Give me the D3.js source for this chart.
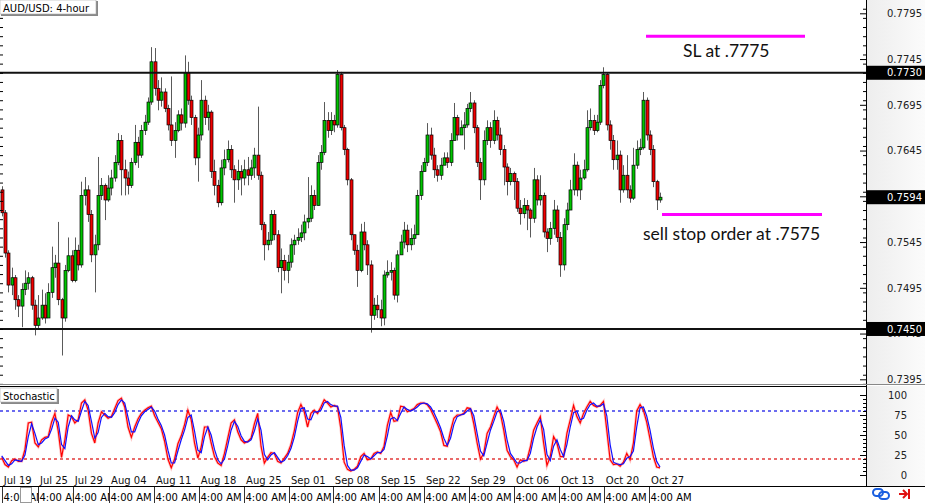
<!DOCTYPE html>
<html><head><meta charset="utf-8">
<script src="https://cdn.jsdelivr.net/npm/d3@7"></script>
<style>body{margin:0;background:#fff;overflow:hidden} svg{display:block}</style>
</head><body>
<svg id="c" width="925" height="503"></svg>
<script>
// ---------- DATA ----------
const title = "AUD/USD: 4-hour";
const firstOpen = .7602;
const closes = [.7577,.7533,.7498,.7506,.7482,.7475,.7493,.7500,.7506,.7476,
.7454,.7462,.7476,.7462,.7490,.7517,.7522,.7482,.7462,.7514,
.7530,.7503,.7536,.7520,.7596,.7602,.7575,.7531,.7542,.7596,
.7607,.7591,.7604,.7615,.7632,.7656,.7624,.7615,.7607,.7632,
.7654,.7640,.7667,.7676,.7698,.7742,.7713,.7700,.7709,.7691,
.7673,.7656,.7667,.7684,.7675,.7730,.7700,.7681,.7637,.7662,
.7700,.7681,.7687,.7622,.7607,.7588,.7626,.7635,.7646,.7624,
.7613,.7622,.7615,.7624,.7618,.7626,.7640,.7618,.7564,.7542,
.7547,.7575,.7553,.7517,.7525,.7514,.7523,.7542,.7547,.7550,
.7555,.7567,.7571,.7596,.7585,.7632,.7643,.7678,.7667,.7678,
.7673,.7728,.7670,.7646,.7613,.7553,.7536,.7514,.7556,.7542,
.7520,.7465,.7476,.7471,.7462,.7509,.7512,.7514,.7487,.7531,
.7545,.7558,.7542,.7549,.7553,.7596,.7622,.7632,.7662,.7640,
.7624,.7618,.7629,.7637,.7632,.7656,.7681,.7662,.7670,.7673,
.7691,.7697,.7670,.7632,.7613,.7656,.7670,.7656,.7678,.7662,
.7646,.7627,.7611,.7620,.7611,.7582,.7576,.7585,.7580,.7571,
.7613,.7591,.7596,.7556,.7549,.7560,.7580,.7550,.7520,.7564,
.7580,.7602,.7629,.7602,.7615,.7624,.7670,.7678,.7667,.7676,
.7716,.7728,.7673,.7656,.7635,.7640,.7602,.7618,.7602,.7593,
.7629,.7646,.7648,.7700,.7662,.7646,.7611,.7591,.7594];
const highs = [.7606,.7580,.7536,.7517,.7509,.7487,.7500,.7514,.7512,.7508,
.7482,.7487,.7493,.7489,.7500,.7540,.7531,.7567,.7484,.7520,
.7550,.7536,.7550,.7542,.7611,.7616,.7607,.7580,.7553,.7638,
.7615,.7609,.7618,.7624,.7640,.7664,.7662,.7635,.7622,.7637,
.7673,.7660,.7673,.7684,.7703,.7758,.7757,.7722,.7725,.7713,
.7695,.7726,.7676,.7689,.7691,.7749,.7742,.7705,.7684,.7670,
.7722,.7705,.7695,.7689,.7635,.7613,.7635,.7646,.7656,.7651,
.7629,.7635,.7629,.7635,.7638,.7635,.7648,.7693,.7622,.7567,
.7556,.7580,.7580,.7558,.7538,.7531,.7531,.7549,.7553,.7560,
.7564,.7575,.7616,.7607,.7602,.7640,.7651,.7698,.7687,.7687,
.7684,.7733,.7731,.7673,.7648,.7615,.7553,.7542,.7565,.7567,
.7547,.7525,.7484,.7487,.7482,.7514,.7525,.7523,.7517,.7536,
.7553,.7567,.7564,.7560,.7564,.7602,.7629,.7637,.7675,.7670,
.7648,.7629,.7637,.7643,.7643,.7664,.7697,.7684,.7678,.7687,
.7696,.7709,.7700,.7673,.7637,.7667,.7678,.7676,.7689,.7682,
.7670,.7651,.7631,.7626,.7622,.7615,.7591,.7593,.7591,.7582,
.7626,.7618,.7618,.7599,.7560,.7567,.7591,.7585,.7556,.7571,
.7588,.7613,.7642,.7633,.7624,.7635,.7689,.7691,.7684,.7684,
.7722,.7736,.7730,.7678,.7662,.7656,.7645,.7629,.7640,.7607,
.7648,.7656,.7658,.7709,.7703,.7667,.7651,.7613,.7599];
const lows = [.7573,.7528,.7490,.7487,.7471,.7463,.7452,.7487,.7493,.7471,
.7443,.7451,.7460,.7456,.7462,.7484,.7506,.7476,.7421,.7458,
.7512,.7501,.7501,.7514,.7517,.7585,.7567,.7523,.7490,.7536,
.7591,.7569,.7589,.7596,.7611,.7629,.7596,.7596,.7597,.7604,
.7629,.7626,.7637,.7662,.7673,.7695,.7705,.7689,.7693,.7687,
.7667,.7650,.7637,.7665,.7667,.7670,.7695,.7673,.7629,.7611,
.7656,.7673,.7667,.7615,.7596,.7583,.7585,.7618,.7632,.7615,
.7588,.7602,.7596,.7607,.7607,.7613,.7615,.7613,.7558,.7525,
.7536,.7542,.7547,.7512,.7489,.7503,.7500,.7517,.7531,.7542,
.7545,.7547,.7560,.7567,.7580,.7585,.7624,.7640,.7659,.7662,
.7665,.7670,.7667,.7640,.7607,.7547,.7531,.7496,.7512,.7536,
.7509,.7446,.7460,.7462,.7453,.7454,.7506,.7503,.7482,.7479,
.7531,.7538,.7534,.7536,.7542,.7553,.7591,.7622,.7628,.7635,
.7615,.7611,.7613,.7629,.7626,.7628,.7656,.7656,.7662,.7646,
.7670,.7687,.7664,.7627,.7591,.7607,.7651,.7648,.7652,.7656,
.7640,.7607,.7596,.7607,.7591,.7578,.7564,.7571,.7558,.7550,
.7566,.7585,.7585,.7550,.7534,.7542,.7553,.7545,.7507,.7514,
.7558,.7580,.7596,.7595,.7591,.7613,.7622,.7667,.7662,.7665,
.7673,.7713,.7667,.7646,.7624,.7624,.7588,.7599,.7593,.7588,
.7591,.7625,.7640,.7646,.7656,.7640,.7605,.7580,.7588];
// Stochastic %K (red) and %D (blue)
const stochK = [22,13,10,18,20,17,17,32,65,66,40,35,44,47,48,66,77,55,22,44,
75,73,65,69,90,94,81,52,40,65,79,75,71,73,83,93,96,85,60,47,
60,70,77,81,84,86,74,66,58,42,20,9,20,39,49,63,81,69,40,21,
35,60,60,40,23,15,12,27,46,65,69,54,44,40,42,46,64,77,36,15,
22,28,27,17,15,21,27,38,55,78,88,79,60,77,81,77,85,94,90,85,
87,85,58,16,7,5,7,11,23,27,19,20,27,29,27,36,62,78,67,68,
86,85,79,81,83,88,90,90,88,82,73,64,54,37,36,55,71,75,75,77,
84,83,64,40,20,27,52,60,73,85,77,56,31,23,19,10,19,17,19,35,
56,65,73,40,12,23,48,40,23,23,52,69,87,73,65,77,85,92,87,85,
87,92,56,19,13,14,11,16,27,19,40,80,88,81,66,45,23,10,9];
const stochD = [24,18,12,14,19,18,17,25,48,64,52,38,40,45,47,57,71,66,38,33,
60,74,69,67,80,92,87,67,46,53,72,77,73,72,78,88,94,90,72,54,
54,65,74,79,82,85,80,70,62,50,31,15,15,30,44,56,72,75,55,31,
28,48,60,50,32,19,14,20,37,56,67,61,49,42,41,44,55,70,56,26,
19,25,28,22,16,18,24,33,47,67,83,84,70,69,79,79,81,90,92,88,
86,86,72,37,12,6,6,9,17,25,23,20,24,28,28,32,49,70,72,68,
77,85,82,80,82,85,89,90,89,85,78,69,59,46,37,46,63,73,75,76,
80,83,74,52,30,24,40,56,67,79,81,67,44,27,21,15,15,18,18,27,
46,60,69,57,26,18,36,44,32,23,38,60,78,80,69,71,81,88,90,86,
86,89,74,38,16,14,13,14,21,23,30,60,84,85,74,56,34,17,10];
const dateLabels = ["Jul 19","Jul 25","Jul 29","Aug 04","Aug 11","Aug 18","Aug 25","Sep 01",
  "Sep 08","Sep 15","Sep 22","Sep 29","Oct 06","Oct 13","Oct 20","Oct 27"];
const dateBarIdx = [0,10.9,21.4,32.3,45.8,59.3,72.9,86.4,99.6,113.5,127.0,140.5,154.1,167.6,181.1,194.7];
const timeLabel = "4:00 AM";
const priceTicks = [0.7395,0.7445,0.7495,0.7545,0.7595,0.7645,0.7695,0.7745,0.7795];
const levelLines = [0.7730, 0.7450];
const markedPrices = [0.7730, 0.7594, 0.7450];
const stochTicks = [0,25,50,75,100];
const stochLevels = [{v:80,c:"#3b3bea"},{v:20,c:"#e23a3a"}];
const slLevel = 0.7770, slText = "SL at .7775";
const sellLevel = 0.7575, sellText = "sell stop order at .7575";

// ---------- LAYOUT ----------
const svg = d3.select("#c");
const N = closes.length;
const opens = closes.map((c,i)=> i===0 ? firstOpen : closes[i-1]);
const plotR = 866;
const x = d3.scaleLinear().domain([0, N-1]).range([1.7, 660]);
const y = d3.scaleLinear().domain([0.7395, 0.7795]).range([379.3, 13.3]);
const ys = d3.scaleLinear().domain([0, 100]).range([475, 395]);
const FONT = "DejaVu Sans, Verdana, sans-serif";

const defs = svg.append("defs");
const grad = defs.append("linearGradient").attr("id","axg").attr("x1","0").attr("x2","1");
grad.append("stop").attr("offset","0").attr("stop-color","#ededed");
grad.append("stop").attr("offset","1").attr("stop-color","#fbfbfb");
defs.append("clipPath").attr("id","clipMain").append("rect").attr("x",0).attr("y",0).attr("width",plotR).attr("height",384);

// backgrounds
svg.append("rect").attr("width",925).attr("height",503).attr("fill","#fff");
svg.append("rect").attr("x",plotR).attr("y",0).attr("width",925-plotR).attr("height",384).attr("fill","url(#axg)");
svg.append("rect").attr("x",plotR).attr("y",386).attr("width",925-plotR).attr("height",100).attr("fill","url(#axg)");

// ---------- MAIN PANEL ----------
const gm = svg.append("g").attr("clip-path","url(#clipMain)");
gm.append("g").selectAll("line").data(closes).join("line")
  .attr("x1",(d,i)=>Math.round(x(i))+0.5).attr("x2",(d,i)=>Math.round(x(i))+0.5)
  .attr("y1",(d,i)=>y(highs[i])).attr("y2",(d,i)=>y(lows[i]))
  .attr("stroke","#5a5a5a").attr("stroke-width",1);
gm.append("g").selectAll("rect").data(closes).join("rect")
  .attr("x",(d,i)=>Math.round(x(i))-1)
  .attr("width",3)
  .attr("y",(d,i)=>y(Math.max(opens[i],d)))
  .attr("height",(d,i)=>Math.max(1, Math.abs(y(opens[i])-y(d))))
  .attr("fill",(d,i)=> d>=opens[i] ? "#00c400" : "#f00000")
  .attr("stroke","#000").attr("stroke-width",0.7);

svg.append("g").selectAll("line").data(levelLines).join("line")
  .attr("x1",0).attr("x2",plotR).attr("y1",d=>y(d)).attr("y2",d=>y(d))
  .attr("stroke","#111").attr("stroke-width",2);

svg.append("line").attr("x1",646).attr("x2",805).attr("y1",y(slLevel)).attr("y2",y(slLevel))
  .attr("stroke","#ff00ff").attr("stroke-width",3);
svg.append("line").attr("x1",662).attr("x2",822).attr("y1",y(sellLevel)).attr("y2",y(sellLevel))
  .attr("stroke","#ff00ff").attr("stroke-width",3);
svg.append("text").attr("x",683).attr("y",57).text(slText)
  .attr("font-family","Lato, 'Open Sans', sans-serif").attr("font-size",17.5).attr("fill","#111");
svg.append("text").attr("x",643).attr("y",240).text(sellText)
  .attr("font-family","Lato, 'Open Sans', sans-serif").attr("font-size",17.5).attr("fill","#111");

// price axis (right) and edge ticks
const minorTicks = d3.range(7390, 7811, 10).map(v=>v/10000).filter(v=>y(v)>=0 && y(v)<=384);
svg.append("g").attr("transform",`translate(${plotR},0)`)
  .call(d3.axisRight(y).tickValues(minorTicks).tickSize(-3).tickFormat(""))
  .call(g=>g.select(".domain").remove())
  .call(g=>g.selectAll("line").attr("stroke","#000"));
svg.append("g")
  .call(d3.axisRight(y).tickValues(minorTicks).tickSize(3).tickFormat(""))
  .call(g=>g.select(".domain").remove())
  .call(g=>g.selectAll("line").attr("stroke","#000"));
svg.append("g").attr("transform",`translate(${plotR},0)`)
  .call(d3.axisRight(y).tickValues(priceTicks).tickSize(-6).tickPadding(21).tickFormat(d3.format(".4f")))
  .call(g=>g.select(".domain").remove())
  .call(g=>g.selectAll("line").attr("stroke","#000"))
  .call(g=>g.selectAll("text").attr("font-family",FONT).attr("font-size",10).attr("fill","#222"));

const mk = svg.append("g").selectAll("g").data(markedPrices).join("g")
  .attr("transform",d=>`translate(${plotR},${y(d)})`);
mk.append("rect").attr("x",0).attr("y",-7).attr("width",925-plotR).attr("height",14).attr("fill","#000");
mk.append("text").attr("x",21).attr("y",3.6).text(d=>d3.format(".4f")(d))
  .attr("font-family",FONT).attr("font-size",10).attr("fill","#fff");

// panel separators
svg.append("line").attr("x1",plotR+0.5).attr("x2",plotR+0.5).attr("y1",0).attr("y2",486).attr("stroke","#000");
svg.append("line").attr("x1",0).attr("x2",925).attr("y1",384.5).attr("y2",384.5).attr("stroke","#888");
svg.append("line").attr("x1",0).attr("x2",plotR).attr("y1",386.5).attr("y2",386.5).attr("stroke","#000");
svg.append("line").attr("x1",0).attr("x2",925).attr("y1",486.5).attr("y2",486.5).attr("stroke","#000");

// title box
svg.append("rect").attr("x",1).attr("y",1).attr("width",97).attr("height",15).attr("fill","#888");
svg.append("rect").attr("x",0).attr("y",0).attr("width",96).attr("height",14).attr("fill","#fff").attr("stroke","#aaa").attr("stroke-width",0.6);
svg.append("text").attr("x",3).attr("y",11.5).text(title).attr("font-family",FONT).attr("font-size",10).attr("fill","#000");

// ---------- STOCHASTIC PANEL ----------
svg.append("g").selectAll("line").data(stochLevels).join("line")
  .attr("x1",0).attr("x2",plotR).attr("y1",d=>ys(d.v)).attr("y2",d=>ys(d.v))
  .attr("stroke",d=>d.c).attr("stroke-width",1.3).attr("stroke-dasharray","3,3");
const line = d3.line().x((d,i)=>x(i)).y(d=>ys(d));
svg.append("path").datum(stochK).attr("d",line).attr("fill","none").attr("stroke","#ff8080").attr("stroke-width",2.8).attr("opacity",0.45);
svg.append("path").datum(stochK).attr("d",line).attr("fill","none").attr("stroke","#ff0000").attr("stroke-width",1.2);
svg.append("path").datum(stochD).attr("d",line).attr("fill","none").attr("stroke","#1010ff").attr("stroke-width",1.2);

svg.append("g").attr("transform",`translate(${plotR},0)`)
  .call(d3.axisRight(ys).tickValues(d3.range(0,101,5)).tickSize(-3).tickFormat(""))
  .call(g=>g.select(".domain").remove())
  .call(g=>g.selectAll("line").attr("stroke","#000"));
svg.append("g").attr("transform",`translate(${plotR},0)`)
  .call(d3.axisRight(ys).tickValues(stochTicks).tickSize(-6).tickPadding(41))
  .call(g=>g.select(".domain").remove())
  .call(g=>g.selectAll("line").attr("stroke","#000"))
  .call(g=>g.selectAll("text").attr("text-anchor","end").attr("font-family",FONT).attr("font-size",10).attr("fill","#222"));

svg.append("rect").attr("x",1).attr("y",389).attr("width",58).attr("height",15).attr("fill","#888");
svg.append("rect").attr("x",0).attr("y",388).attr("width",57).attr("height",14).attr("fill","#fff").attr("stroke","#aaa").attr("stroke-width",0.6);
svg.append("text").attr("x",3).attr("y",399.5).text("Stochastic").attr("font-family",FONT).attr("font-size",10).attr("fill","#000");

svg.append("g").selectAll("text").data(dateLabels).join("text")
  .attr("x",(d,i)=>x(dateBarIdx[i])+2).attr("y",484).text(d=>d)
  .attr("font-family",FONT).attr("font-size",10).attr("fill","#111");

// bottom time row: each label clipped to its own cell
const cellX = dateBarIdx.map(d=>Math.round(x(d)));
cellX.forEach((cx,i)=>{
  const w = i < cellX.length-1 ? cellX[i+1]-cx : 60;
  defs.append("clipPath").attr("id","tc"+i).append("rect").attr("x",cx).attr("y",487).attr("width",w).attr("height",16);
});
const tr = svg.append("g").selectAll("g").data(dateBarIdx).join("g");
tr.append("text").attr("x",(d,i)=>cellX[i]+1.5).attr("y",501).text(timeLabel)
  .attr("clip-path",(d,i)=>`url(#tc${i})`)
  .attr("font-family",FONT).attr("font-size",10).attr("fill","#000");
tr.append("line").attr("x1",(d,i)=>cellX[i]+0.5).attr("x2",(d,i)=>cellX[i]+0.5).attr("y1",487).attr("y2",503).attr("stroke","#333");
svg.append("rect").attr("x",20.5).attr("y",487.5).attr("width",11).attr("height",15).attr("fill","#fff").attr("stroke","#999");

// icons bottom-right
const ic = svg.append("g").attr("fill","none").attr("stroke","#1a5fe0").attr("stroke-width",2);
ic.append("rect").attr("x",873).attr("y",489).attr("width",10).attr("height",7).attr("rx",3.5);
ic.append("rect").attr("x",879).attr("y",492).attr("width",10).attr("height",7).attr("rx",3.5);
const ar = svg.append("g").attr("stroke","#e01010").attr("stroke-width",2).attr("fill","none");
ar.append("line").attr("x1",899).attr("x2",907).attr("y1",494).attr("y2",494);
ar.append("polyline").attr("points","903,490 907,494 903,498");
ar.append("line").attr("x1",909).attr("x2",909).attr("y1",489).attr("y2",499);
</script>
</body></html>
